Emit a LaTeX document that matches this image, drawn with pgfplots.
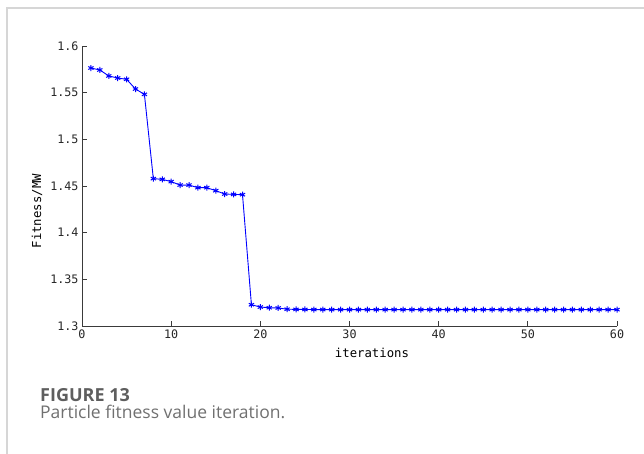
\documentclass[border=0pt]{standalone}
\usepackage{pgfplots}
\pgfplotsset{compat=1.18}
\usepackage{fontspec}
\setmainfont{Open Sans}
\newfontfamily\monof{DejaVu Sans Mono}
\definecolor{capgray}{HTML}{5E5E5E}
\definecolor{capgray2}{HTML}{707070}
\definecolor{bordergray}{HTML}{D6D6D6}
\definecolor{axgray}{HTML}{3A3A3A}
\begin{document}
\begin{tikzpicture}[x=1pt,y=1pt]
\path[use as bounding box] (0,0) rectangle (644,454);
\draw[bordergray, line width=1.5pt] (644,446) -- (7,446) -- (7,0);
\begin{axis}[
  at={(82pt,128pt)}, anchor=south west,
  width=535pt, height=280pt, scale only axis,
  xmin=0, xmax=60, ymin=1.3, ymax=1.6,
  axis lines=left, axis line style={-, axgray, line width=0.8pt},
  xtick={0,10,...,60},
  ytick={1.3,1.35,1.4,1.45,1.5,1.55,1.6},
  yticklabels={1.3,1.35,1.4,1.45,1.5,1.55,1.6},
  tick align=inside, major tick length=5pt,
  tick style={axgray, line width=0.8pt},
  /pgf/number format/assume math mode=true,
  ticklabel style={font=\monof\fontsize{11.7}{12}\selectfont, text=black!85},
  xlabel={iterations}, ylabel={Fitness/MW},
  xlabel style={font=\monof\fontsize{12.3}{13}\selectfont, at={(axis description cs:0.542,-0.114)}, anchor=base},
  ylabel style={font=\monof\fontsize{12.3}{13}\selectfont, at={(axis description cs:-0.084,0.41)}, anchor=center, rotate=0},
  clip=false,
]
\addplot[blue, line width=0.9pt, mark=asterisk, mark size=3pt, mark options={line width=1pt}] coordinates {
(1,1.5764)(2,1.5743)(3,1.5679)(4,1.5657)(5,1.5643)(6,1.5539)(7,1.5482)
(8,1.4579)(9,1.4571)(10,1.4547)(11,1.4510)(12,1.4510)(13,1.4482)(14,1.4482)
(15,1.4450)(16,1.4414)(17,1.4410)(18,1.4407)
(19,1.3228)(20,1.3203)(21,1.3196)(22,1.3193)(23,1.3180)(24,1.3178)(25,1.3177)
(26,1.3176)(27,1.3176)(28,1.3175)(29,1.3175)(30,1.3175)(31,1.3175)(32,1.3175)
(33,1.3175)(34,1.3175)(35,1.3175)(36,1.3175)(37,1.3175)(38,1.3175)(39,1.3175)
(40,1.3175)(41,1.3175)(42,1.3175)(43,1.3175)(44,1.3175)(45,1.3175)(46,1.3175)
(47,1.3175)(48,1.3175)(49,1.3175)(50,1.3175)(51,1.3175)(52,1.3175)(53,1.3175)
(54,1.3175)(55,1.3175)(56,1.3175)(57,1.3175)(58,1.3175)(59,1.3175)(60,1.3175)
};
\end{axis}
\node[anchor=base west, inner sep=0pt, text=capgray, font=\bfseries\fontsize{18}{20}\selectfont] at (40,52.3) {FIGURE 13};
\node[anchor=base west, inner sep=0pt, text=capgray2, font=\fontsize{17.5}{20}\selectfont] at (40,35) {Particle fitness value iteration.};
\end{tikzpicture}
\end{document}
